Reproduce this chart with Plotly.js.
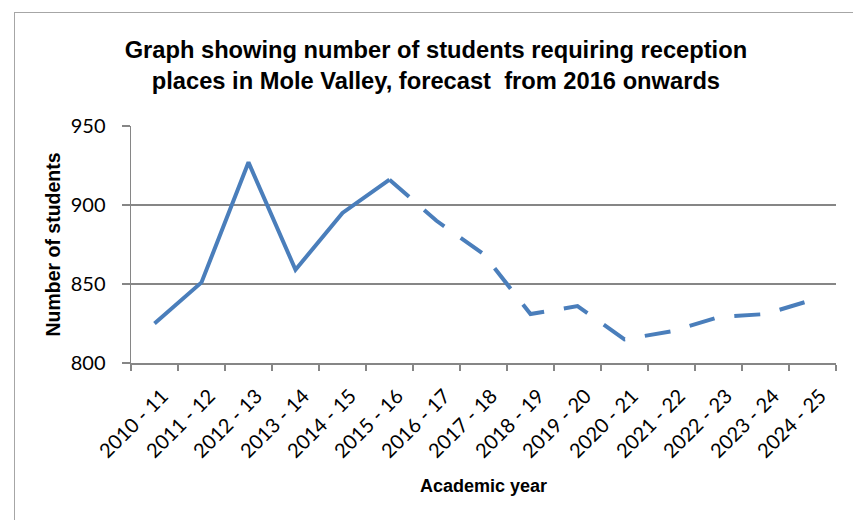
<!DOCTYPE html>
<html>
<head>
<meta charset="utf-8">
<script src="https://cdn.plot.ly/plotly-3.0.1.min.js"></script>
<style>
body{margin:0;padding:0;background:#fff;}
#frame{position:absolute;left:14px;top:12px;width:900px;height:600px;border:1px solid #a6a6a6;box-sizing:border-box;}
#chart{position:absolute;left:0;top:0;width:853px;height:520px;}
</style>
</head>
<body>
<div id="frame"></div>
<div id="chart"></div>
<script>
const years = ["2010 - 11","2011 - 12","2012 - 13","2013 - 14","2014 - 15","2015 - 16","2016 - 17","2017 - 18","2018 - 19","2019 - 20","2020 - 21","2021 - 22","2022 - 23","2023 - 24","2024 - 25"];
const actualYears = ["2010 - 11","2011 - 12","2012 - 13","2013 - 14","2014 - 15","2015 - 16"];
const actualStudents = [825, 851, 927, 859, 895, 916];
const forecastYears = ["2015 - 16","2016 - 17","2017 - 18","2018 - 19","2019 - 20","2020 - 21","2021 - 22","2022 - 23","2023 - 24","2024 - 25"];
const forecastStudents = [916, 890, 869, 831, 836, 815, 820, 829, 831, 840];
const yTicks = [800, 850, 900, 950];

const lineColor = '#4a7ebb';
const traces = [
  {x: actualYears, y: actualStudents, type: 'scatter', mode: 'lines',
   line: {color: lineColor, width: 4}, hoverinfo: 'x+y'},
  {x: forecastYears, y: forecastStudents, type: 'scatter', mode: 'lines',
   line: {color: lineColor, width: 4, dash: '26px,20px'}, hoverinfo: 'x+y'}
];

const boldFont = 'Liberation Sans, Arial, sans-serif';
const layout = {
  width: 853, height: 520,
  margin: {l: 131, r: 17, t: 126, b: 157},
  paper_bgcolor: 'rgba(0,0,0,0)',
  plot_bgcolor: 'rgba(0,0,0,0)',
  showlegend: false,
  font: {family: 'Lato, sans-serif', color: '#000'},
  title: {
    text: 'Graph showing number of students requiring reception<br>places in Mole Valley, forecast  from 2016 onwards',
    font: {family: boldFont, size: 23.7, color: '#000', weight: 'bold'},
    x: 0.511, xanchor: 'center', y: 0.888, yanchor: 'middle', yref: 'container'
  },
  xaxis: {
    type: 'category',
    categoryorder: 'array', categoryarray: years,
    range: [-0.5, 14.5],
    tickson: 'boundaries',
    ticks: 'outside', ticklen: 6, tickcolor: '#868686', tickwidth: 1.5,
    showline: true, linecolor: '#868686', linewidth: 1.5,
    showgrid: false,
    tickangle: -45,
    ticklabelstandoff: 12,
    ticklabelshift: 8,
    tickfont: {family: 'Lato, sans-serif', size: 20, color: '#000'},
    title: {text: 'Academic year', font: {family: boldFont, size: 18, weight: 'bold', color: '#000'}, standoff: 18}
  },
  yaxis: {
    range: [800, 950],
    tickvals: yTicks,
    ticks: 'outside', ticklen: 8, tickcolor: '#868686', tickwidth: 1.5,
    showline: true, linecolor: '#868686', linewidth: 1.5,
    showgrid: true, gridcolor: '#868686', gridwidth: 1.5,
    zeroline: false,
    ticklabelstandoff: 12,
    tickfont: {family: 'Lato, sans-serif', size: 20, color: '#000'},
    title: {text: 'Number of students', font: {family: boldFont, size: 19.5, weight: 'bold', color: '#000'}, standoff: 5}
  }
};

Plotly.newPlot('chart', traces, layout, {displayModeBar: false, staticPlot: true});
</script>
</body>
</html>
